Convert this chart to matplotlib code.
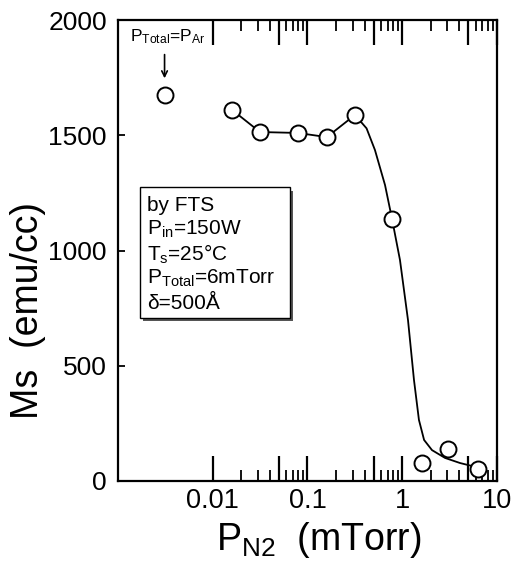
import matplotlib
matplotlib.use("Agg")
import matplotlib.pyplot as plt
from matplotlib.patches import Rectangle
from matplotlib.ticker import FixedLocator, FixedFormatter

plt.rcParams['font.family'] = ['Liberation Sans', 'DejaVu Sans']
plt.rcParams['mathtext.fontset'] = 'custom'
plt.rcParams['mathtext.rm'] = 'Liberation Sans'
plt.rcParams['mathtext.it'] = 'Liberation Sans:italic'

# Data
ar_x = [0.0031]
ar_y = [1675]
pn2 = [0.016, 0.0315, 0.079, 0.16, 0.317, 0.78, 1.6, 3.04, 6.3]
ms = [1610, 1514, 1510, 1492, 1588, 1137, 78, 139, 52]
# connected points (low pressure)
conn_x = [0.016, 0.0315, 0.079, 0.16, 0.317]
conn_y = [1610, 1514, 1510, 1492, 1588]
# guide curve
fit_x = [0.317, 0.42, 0.515, 0.658, 0.78, 0.946, 1.15, 1.33, 1.50, 1.70, 2.06, 2.83, 4.07, 5.45]
fit_y = [1588, 1530, 1436, 1284, 1137, 959, 698, 438, 265, 178, 134, 100, 78, 65]

major_ticks = [0.01, 0.05, 0.1, 0.5, 1, 5, 10]
major_labels = ['0.01', '', '0.1', '', '1', '', '10']
minor_ticks = [m * d for d in (0.01, 0.1, 1) for m in (2, 3, 4, 6, 7, 8, 9)]
y_ticks = [0, 500, 1000, 1500, 2000]
legend_lines = ['by FTS', r'$\mathrm{P_{in}}$=150W', r'$\mathrm{T_{s}}$=25°C',
                r'$\mathrm{P_{Total}}$=6mTorr', 'δ=500Å']

fig = plt.figure(figsize=(5.16, 5.64), dpi=100)
ax = fig.add_axes([118/516, 1-481/564, (497-118)/516, (481-20)/564])
ax.set_xscale('log')
ax.set_xlim(0.001, 10)
ax.set_ylim(0, 2000)

ax.plot(conn_x, conn_y, color='black', lw=1.3, zorder=2)
ax.plot(fit_x, fit_y, color='black', lw=1.3, zorder=2)
ax.plot(pn2, ms, 'o', ms=11.5, mfc='white', mec='black', mew=1.4, zorder=3, ls='none')
ax.plot(ar_x, ar_y, 'o', ms=11.5, mfc='white', mec='black', mew=1.4, zorder=3, ls='none')

ax.xaxis.set_major_locator(FixedLocator(major_ticks))
ax.xaxis.set_major_formatter(FixedFormatter(major_labels))
ax.xaxis.set_minor_locator(FixedLocator(minor_ticks))
ax.xaxis.set_minor_formatter(FixedFormatter([''] * len(minor_ticks)))
ax.tick_params(axis='x', which='major', direction='in', length=18, width=1.6,
               top=True, bottom=True, labelsize=19.5, pad=5)
ax.tick_params(axis='x', which='minor', direction='in', length=8, width=1.3,
               top=True, bottom=True)
ax.set_yticks(y_ticks)
ax.tick_params(axis='y', which='major', direction='in', length=5, width=1.3,
               left=True, right=False, labelsize=19, pad=8)
for s in ax.spines.values():
    s.set_linewidth(1.6)

ax.set_xlabel(r'$\mathrm{P_{N2}}$  (mTorr)', fontsize=27, labelpad=4)
ax.xaxis.set_label_coords(0.53, -0.085)
ax.set_ylabel('Ms  (emu/cc)', fontsize=27, labelpad=4)
ax.yaxis.set_label_coords(-0.19, 0.37)

# annotation
ax.text(0.00134, 1968, r'$\mathrm{P_{Total}}$=$\mathrm{P_{Ar}}$', fontsize=12.5, va='top', ha='left')
ax.annotate('', xy=(0.0031, 1735), xytext=(0.0031, 1862),
            arrowprops=dict(arrowstyle='->', color='black', lw=1.2))

# legend box with shadow
bx0, by0, bw, bh = 0.058, 0.354, 0.396, 0.284
ax.add_patch(Rectangle((bx0 + 0.008, by0 - 0.008), bw, bh, transform=ax.transAxes,
                       facecolor='#555555', edgecolor='none', zorder=4))
ax.add_patch(Rectangle((bx0, by0), bw, bh, transform=ax.transAxes,
                       facecolor='white', edgecolor='black', lw=1.0, zorder=5))
for i, t in enumerate(legend_lines):
    ax.text(bx0 + 0.018, by0 + bh - 0.04 - i * 0.053, t, transform=ax.transAxes,
            fontsize=15, va='center', ha='left', zorder=6)

fig.savefig('out.png', dpi=100)
